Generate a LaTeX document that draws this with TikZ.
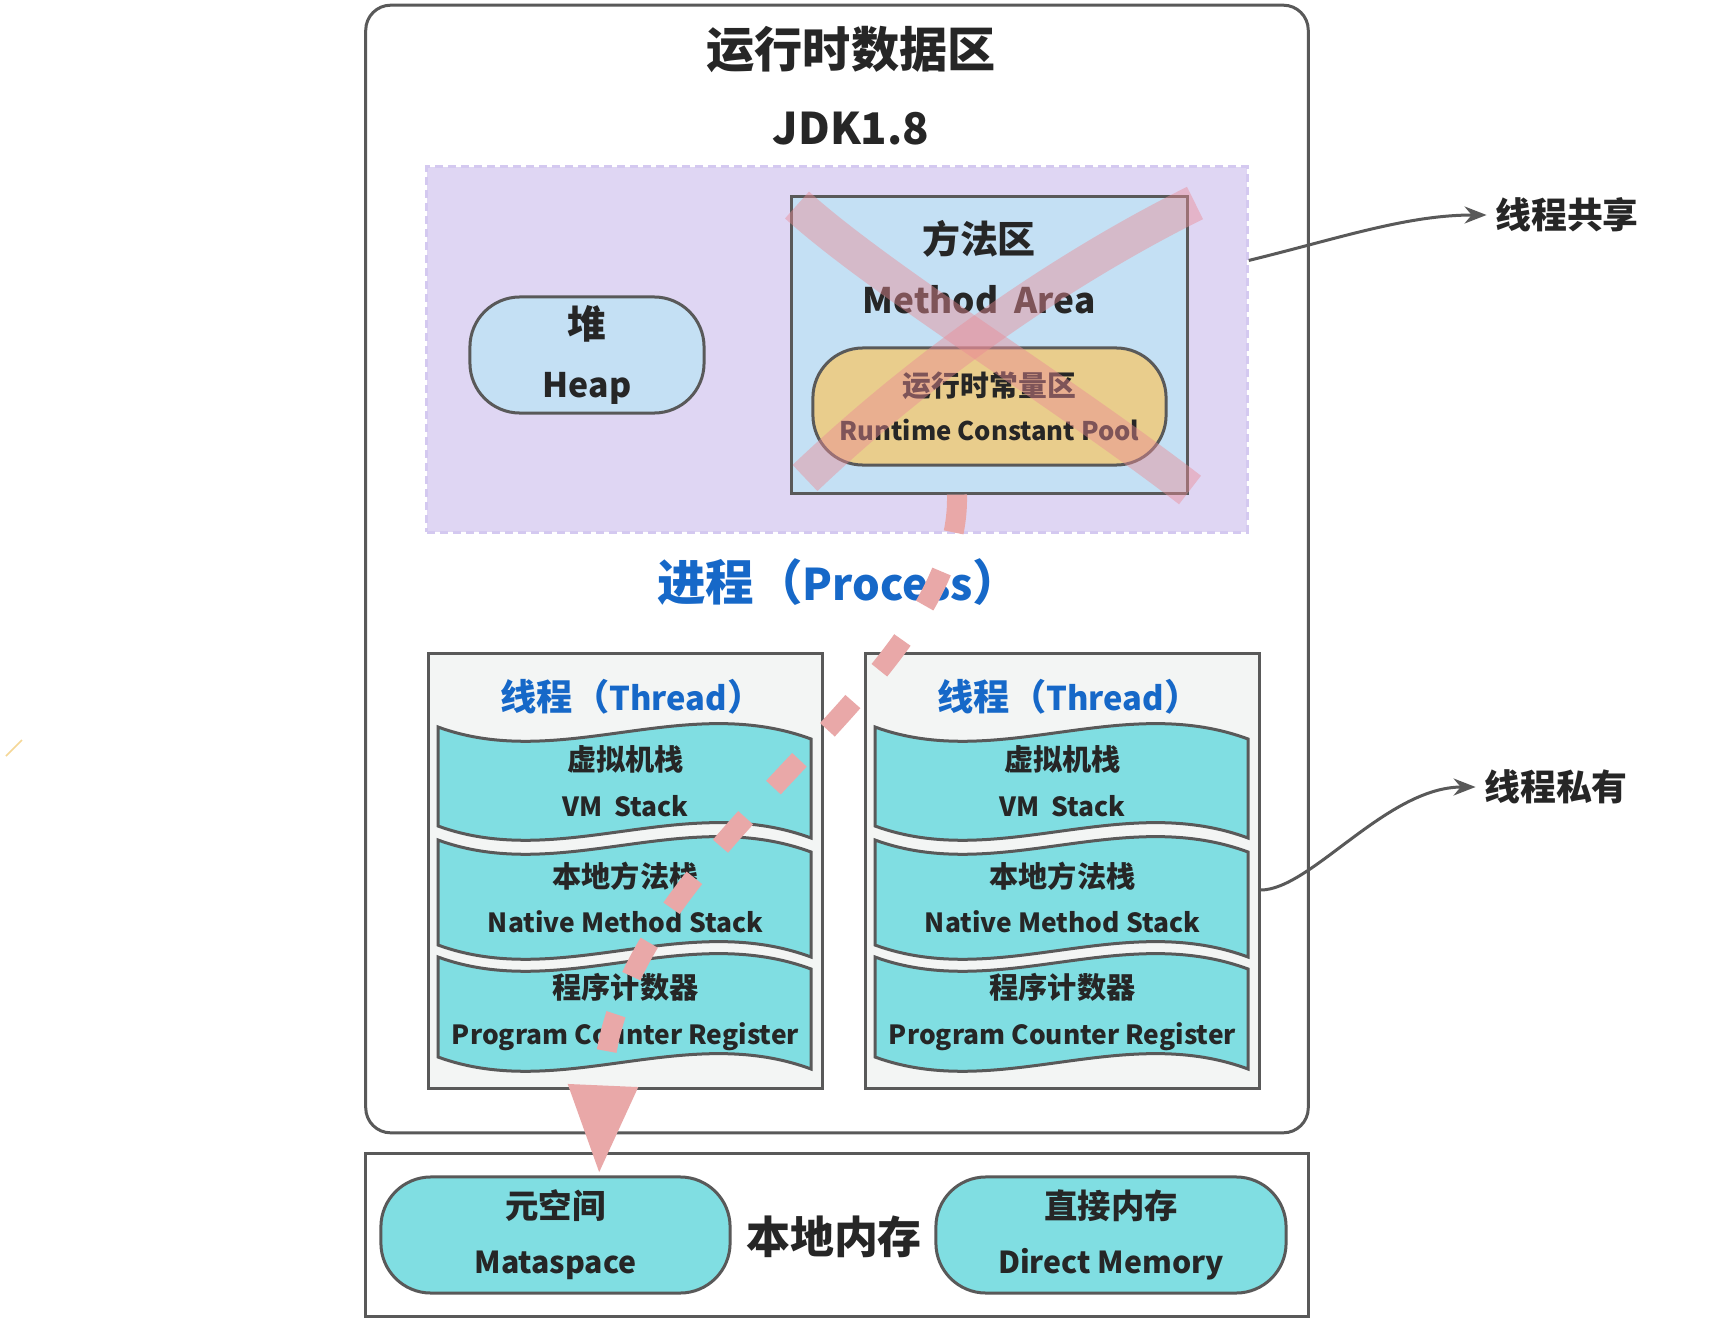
\documentclass[tikz,border=0pt]{standalone}
\usepackage{fontspec}
\setmainfont{Noto Sans CJK SC}
\usetikzlibrary{arrows.meta}
\newcommand{\fz}[2]{\bfseries\fontsize{#1}{#2}\selectfont}

\begin{document}
\begin{tikzpicture}[x=0.01cm,y=-0.01cm,
        linea/.style={draw=gris,line width=0.03cm},
        caja/.style={linea,inner sep=0pt},
        pildora/.style={caja,rounded corners=0.5cm,minimum height=1.16cm,align=center,text=negro},
        pila/.style={linea,fill=cian},
        txt/.style={text=negro,align=center,inner sep=0pt},
        etiq/.style={txt,inner sep=0.08cm,font=\fz{10.2}{12}},
        flecha/.style={draw=gris,line width=0.03cm,-{Stealth[length=0.22cm,width=0.17cm]}},
        cruz/.style={draw=rosa,line width=0.36cm,draw opacity=0.45},
        traza/.style={draw=rosab,line width=0.2cm,dash pattern=on 0.38cm off 0.41cm,-{Triangle[length=0.9cm,width=0.64cm]}}]
        %colores
        \definecolor{gris}{RGB}{89,89,89}
        \definecolor{grisc}{RGB}{243,245,244}
        \definecolor{lila}{RGB}{223,214,243}
        \definecolor{lilad}{RGB}{212,201,240}
        \definecolor{azulc}{RGB}{196,224,244}
        \definecolor{oro}{RGB}{233,205,140}
        \definecolor{cian}{RGB}{128,222,226}
        \definecolor{azul}{RGB}{22,104,200}
        \definecolor{rosa}{RGB}{235,140,150}
        \definecolor{rosab}{RGB}{233,168,168}
        \definecolor{negro}{RGB}{38,38,38}
        \definecolor{naranja}{RGB}{245,215,150}

        % fondo
        \fill[white] (0,0) rectangle (1723,1321);
        \useasboundingbox (0,0) rectangle (1723,1321);

        % Area de datos
        \node[caja,rounded corners=0.25cm,minimum width=9.42cm,minimum height=11.27cm] (rtda) at (837,569) {};
        \node[txt,font=\fz{13.7}{16}] (titulo) at (851,50) {运行时数据区};
        \node[txt,font=\fz{12.4}{15}] (jdk) at (851,129) {JDK1.8};

        % Zona compartida
        \node[draw=lilad,fill=lila,line width=0.03cm,dash pattern=on 0.08cm off 0.05cm,minimum width=8.2cm,minimum height=3.65cm] (lav) at (837,349.5) {};
        \node[pildora,fill=azulc,minimum width=2.34cm,font=\fz{11}{16.8}] (heap) at (587,355) {堆\\\fz{9.6}{16.8}Heap};
        \node[caja,fill=azulc,minimum width=3.95cm,minimum height=2.96cm] (ma) at (989.5,345) {};
        \node[txt,font=\fz{10.8}{17.1}] (matxt) at (979,267) {方法区\\\fz{10}{17.1}Method\ \ Area};
        \node[pildora,fill=oro,minimum width=3.53cm,minimum height=1.17cm,font=\fz{8.2}{12.7}] (rcp) at (989.5,406.5) {运行时常量区\\\fz{7.3}{12.7}Runtime Constant Pool};
        % cruz
        \draw[cruz] (797,205) .. controls (880,280) and (1060,390) .. (1190,490);
        \draw[cruz] (1195,203) .. controls (1100,250) and (950,340) .. (805,478);

        \node[txt,text=azul,font=\fz{13.8}{16}] (proceso) at (839,582) {进程（{\fz{12.4}{16}Process}）};

        % Hilos
        \foreach \bx/\n in {429/1,866/2}{
            \node[caja,fill=grisc,minimum width=3.93cm,minimum height=4.34cm] (hilo\n) at ({\bx+196.5},871) {};
            \node[txt,text=azul,font=\fz{10.3}{12}] (th\n) at ({\bx+203},697) {线程（{\fz{9.3}{12}Thread}）};
            \foreach \sy/\sh/\nom/\texto in {727/99/vm/{虚拟机栈\\\fz{7.5}{13}VM\ \ Stack},840/105/nms/{本地方法栈\\\fz{7.5}{13}Native Method Stack},957/100/pc/{程序计数器\\\fz{7.5}{13}Program Counter Register}}{
                \draw[pila] ({\bx+9},\sy) .. controls +(123,45) and +(-127,-47) .. ({\bx+382},{\sy+12}) -- ++(0,\sh) .. controls +(-127,-47) and +(123,45) .. ({\bx+9},{\sy+\sh}) -- cycle;
                \node[txt,font=\fz{8.3}{13}] (\nom\n) at ({\bx+196.5},{\sy+5+\sh/2}) {\texto};
            }
        }

        % Memoria local
        \node[caja,minimum width=9.42cm,minimum height=1.62cm] (nativo) at (837,1235) {};
        \node[pildora,fill=cian,minimum width=3.49cm,font=\fz{9.5}{15.7}] (meta) at (555.5,1235) {元空间\\\fz{8.6}{15.7}Mataspace};
        \node[pildora,fill=cian,minimum width=3.5cm,font=\fz{9.5}{15.7}] (directa) at (1111,1235) {直接内存\\\fz{8.6}{15.7}Direct Memory};
        \node[txt,font=\fz{12.5}{15}] (nlocal) at (834,1237) {本地内存};

        % Etiquetas laterales
        \node[etiq] (comp) at (1567,215) {线程共享};
        \node[etiq] (priv) at (1556,787) {线程私有};
        \draw[flecha] ([yshift=-0.95cm]lav.north east) .. controls +(90,-22) and +(-80,0) .. (comp.west);
        \draw[flecha] ([yshift=-0.19cm]hilo2.east) .. controls +(50,0) and +(-89,0) .. (priv.west);

        % Flecha rosa
        \draw[traza] ([xshift=-0.325cm]ma.south) .. controls (962,690) and (612,850) .. (603,1085) -- ([xshift=0.435cm]meta.north);

        \draw[naranja,line width=0.015cm] (6,756) -- (22,740);
\end{tikzpicture}
\end{document}
